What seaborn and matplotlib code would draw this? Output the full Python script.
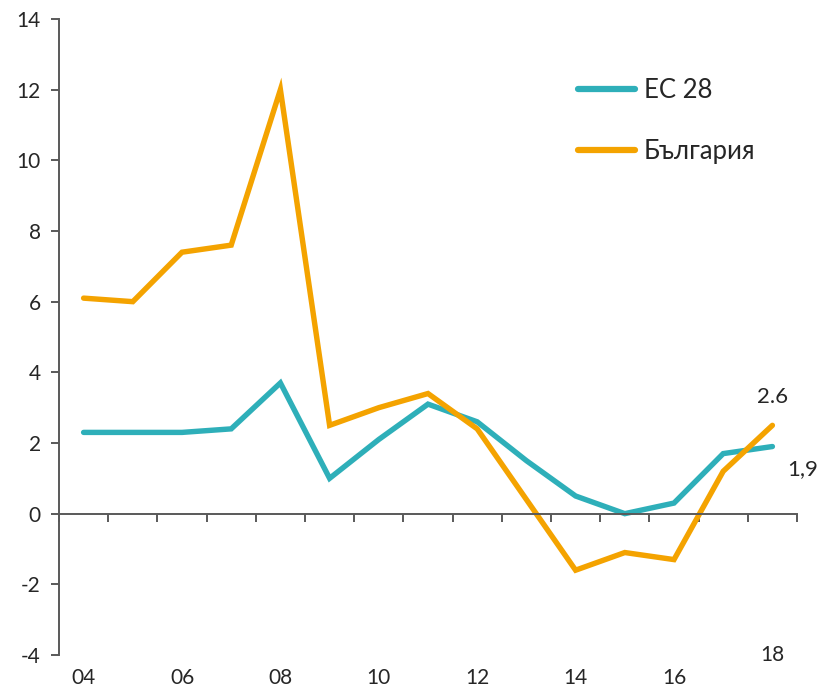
import matplotlib
matplotlib.use('Agg')
import numpy as np
import pandas as pd
import matplotlib.pyplot as plt
import matplotlib.transforms as mtransforms
import seaborn as sns


years = ['04', '05', '06', '07', '08', '09', '10', '11', '12', '13', '14', '15', '16', '17', '18']
eu28 = [2.3, 2.3, 2.3, 2.4, 3.7, 1.0, 2.1, 3.1, 2.6, 1.5, 0.5, 0.0, 0.3, 1.7, 1.9]
bulgaria = [6.1, 6.0, 7.4, 7.6, 12.0, 2.5, 3.0, 3.4, 2.4, 0.4, -1.6, -1.1, -1.3, 1.2, 2.5]
series_names = ['ЕС 28', 'България']
series_colors = ['#2EAFB9', '#F4A300']
end_labels = ['1,9', '2.6']
yticks = [-4, -2, 0, 2, 4, 6, 8, 10, 12, 14]


def build_frame():
    pos = np.arange(len(years))
    df = pd.concat([
        pd.DataFrame({'pos': pos, 'value': eu28, 'series': series_names[0]}),
        pd.DataFrame({'pos': pos, 'value': bulgaria, 'series': series_names[1]}),
    ], ignore_index=True)
    return df


def main():
    sns.set_style('white')
    plt.rcParams['font.family'] = ['Lato', 'DejaVu Sans']

    df = build_frame()
    fig = plt.figure(figsize=(8.21, 6.88), dpi=100)
    ax = fig.add_axes([59 / 821, 1 - 655 / 688, 738 / 821, 636 / 688])

    sns.lineplot(data=df, x='pos', y='value', hue='series',
                 palette=dict(zip(series_names, series_colors)),
                 linewidth=3.9, sort=False, ax=ax)
    for line in ax.get_lines():
        line.set_solid_capstyle('round')
        line.set_solid_joinstyle('miter')

    ax.set_xlim(-0.5, len(years) - 0.5)
    ax.set_ylim(yticks[0], yticks[-1])
    ax.set_xlabel('')
    ax.set_ylabel('')

    spine_col = '#595959'
    for side in ['top', 'right']:
        ax.spines[side].set_visible(False)
    ax.spines['left'].set_color(spine_col)
    ax.spines['left'].set_linewidth(1.4)
    ax.spines['bottom'].set_color(spine_col)
    ax.spines['bottom'].set_linewidth(1.4)
    ax.spines['bottom'].set_position(('data', 0))

    ax.set_yticks(yticks)
    ax.set_yticklabels([str(v) for v in yticks])
    ax.tick_params(axis='y', direction='out', length=6, width=1.4,
                   color=spine_col, labelsize=15, pad=7, left=True)

    bounds = np.arange(-0.5, len(years), 1.0)
    ax.set_xticks(bounds)
    ax.set_xticklabels([])
    ax.tick_params(axis='x', direction='out', length=6, width=1.4,
                   color=spine_col, bottom=True)

    # category labels below the plot area
    trans = mtransforms.blended_transform_factory(ax.transData, ax.transAxes)
    for i, lab in enumerate(years):
        if i % 2 == 0 and lab != '18':
            ax.text(i, -29 / 636, lab, transform=trans, ha='center', va='baseline',
                    fontsize=15)
    ax.text(len(years) - 1, 0.0, '18', transform=trans, ha='center', va='center',
            fontsize=15)

    # end value labels
    ax.annotate(end_labels[1], (len(years) - 1, bulgaria[-1]), xytext=(0, 28),
                textcoords='offset pixels', ha='center', va='center', fontsize=16)
    ax.annotate(end_labels[0], (len(years) - 1, eu28[-1]), xytext=(30, -23),
                textcoords='offset pixels', ha='center', va='center', fontsize=16)

    handles, labels = ax.get_legend_handles_labels()
    leg = ax.legend(handles, labels, loc='upper left', frameon=False,
                    bbox_to_anchor=(578 / 821, 1 - 78 / 688),
                    bbox_transform=fig.transFigure, fontsize=18.5,
                    handlelength=2.2, handletextpad=0.35, labelspacing=1.4,
                    borderpad=0, borderaxespad=0)
    for h in leg.get_lines():
        h.set_linewidth(4.5)
        h.set_solid_capstyle('round')

    fig.savefig('out.png', dpi=100)
    plt.close(fig)


if __name__ == '__main__':
    main()
